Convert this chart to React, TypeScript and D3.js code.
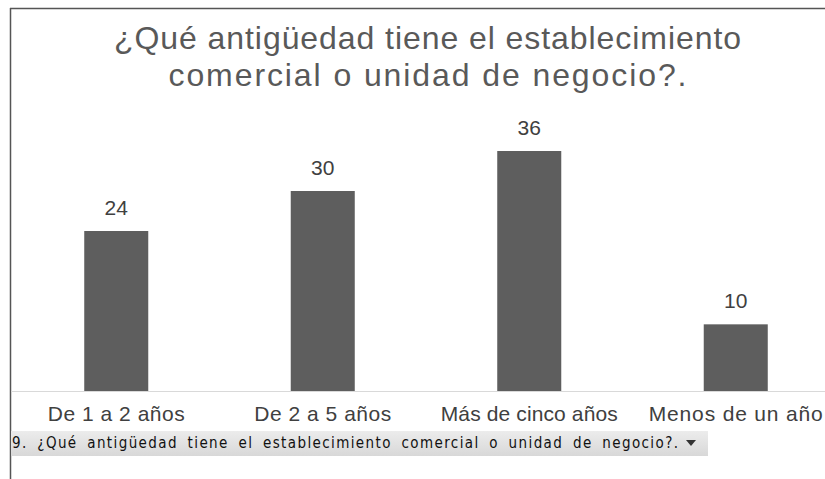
import React from "react";
import * as d3 from "d3";

const categories = ["De 1 a 2 años", "De 2 a 5 años", "Más de cinco años", "Menos de un año"];
const values = [24, 30, 36, 10];
const titleLines = ["¿Qué antigüedad tiene el establecimiento", "comercial o unidad de negocio?."];
const footerText = "9. ¿Qué antigüedad tiene el establecimiento comercial o unidad de negocio?.";

const W = 825;
const H = 479;
const titleWidths = [627, 518];
const labelWidths = [137, 137, 177, 174];

export default function App() {
  const x = d3
    .scaleBand<string>()
    .domain(categories)
    .range([13, 839])
    .paddingInner(0.69)
    .paddingOuter(0.345);
  const y = d3.scaleLinear().domain([0, 36]).range([391, 151]);

  return (
    <svg
      width={W}
      height={H}
      style={{ position: "absolute", left: 0, top: 0, background: "#fff" }}
      fontFamily="'Liberation Sans', Arial, sans-serif"
    >
      <defs>
        <linearGradient id="strip" x1="0" y1="0" x2="0" y2="1">
          <stop offset="0" stopColor="#ececec" />
          <stop offset="1" stopColor="#d8d8d8" />
        </linearGradient>
      </defs>
      <rect x={0} y={0} width={W} height={H} fill="#fff" />
      {/* chart border */}
      <line x1={10.5} y1={8} x2={10.5} y2={H} stroke="#555" strokeWidth={1.5} />
      <line x1={10} y1={8.5} x2={W} y2={8.5} stroke="#555" strokeWidth={1.5} />

      {titleLines.map((t, i) => (
        <text
          key={i}
          x={427.5}
          y={49 + i * 37}
          textAnchor="middle"
          fontSize={32}
          fill="#595959"
          textLength={titleWidths[i]}
          lengthAdjust="spacing"
        >
          {t}
        </text>
      ))}

      {/* baseline */}
      <line x1={11} y1={391.5} x2={W} y2={391.5} stroke="#d9d9d9" strokeWidth={1} />

      {categories.map((c, i) => (
        <g key={c}>
          <rect
            x={x(c)!}
            y={y(values[i])}
            width={x.bandwidth()}
            height={y(0) - y(values[i])}
            fill="#5e5e5e"
          />
          <text
            x={x(c)! + x.bandwidth() / 2}
            y={y(values[i]) - 16}
            textAnchor="middle"
            fontSize={21}
            fill="#404040"
          >
            {values[i]}
          </text>
          <text
            x={x(c)! + x.bandwidth() / 2}
            y={421}
            textAnchor="middle"
            fontSize={21}
            fill="#404040"
            textLength={labelWidths[i]}
            lengthAdjust="spacing"
          >
            {c}
          </text>
        </g>
      ))}

      {/* footer strip */}
      <rect x={11} y={431} width={697} height={25} fill="url(#strip)" />
      <text
        x={12}
        y={448}
        fontSize={15}
        fill="#111"
        fontFamily="'DejaVu Sans Condensed', 'DejaVu Sans', sans-serif"
        wordSpacing={4}
        textLength={666}
        lengthAdjust="spacing"
      >
        {footerText}
      </text>
      <path d="M686,440 L696,440 L691,446 Z" fill="#333" />
    </svg>
  );
}
